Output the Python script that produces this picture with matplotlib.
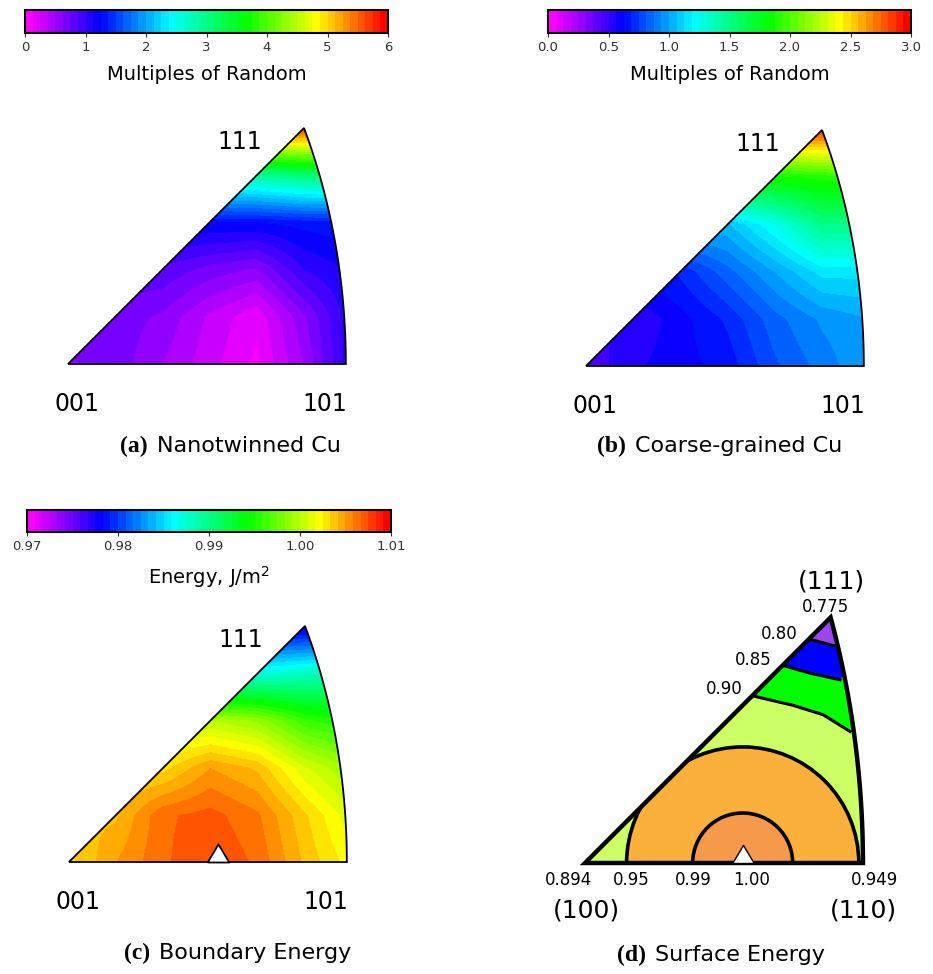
import numpy as np
import matplotlib
matplotlib.use("Agg")
import matplotlib.pyplot as plt
from matplotlib.colors import LinearSegmentedColormap, Normalize
from matplotlib.cm import ScalarMappable
from matplotlib.patches import Polygon, Circle

plt.rcParams['font.family'] = ['DejaVu Sans']

# sampled field values on a regular grid in the equal-area triangle (rows = y, cols = x)
grid_x = [0.0, 0.13, 0.26, 0.39, 0.52, 0.65, 0.78]
grid_y = [0.0, 0.13, 0.26, 0.39, 0.52, 0.65]

mrd_nanotwinned = [
    [0.6, 0.7, 0.5, 0.3, 0.1, 0.5, 1.1],
    [0.7, 0.7, 0.6, 0.35, 0.15, 0.6, 1.1],
    [0.85, 0.85, 0.85, 0.7, 0.6, 1.0, 1.15],
    [1.25, 1.25, 1.25, 1.25, 1.25, 1.3, 1.35],
    [2.8, 2.8, 2.8, 2.8, 2.9, 3.1, 3.1],
    [5.7, 5.7, 5.7, 5.7, 5.7, 5.7, 5.7],
]
mrd_coarse = [
    [0.45, 0.55, 0.6, 0.65, 0.8, 0.9, 1.0],
    [0.5, 0.5, 0.6, 0.7, 0.85, 0.95, 1.0],
    [0.65, 0.65, 0.7, 0.85, 1.0, 1.15, 1.15],
    [1.05, 1.05, 1.05, 1.05, 1.25, 1.5, 1.5],
    [1.8, 1.8, 1.8, 1.8, 1.85, 1.9, 1.95],
    [2.85, 2.85, 2.85, 2.85, 2.85, 2.85, 2.85],
]
boundary_energy = [
    [1.003, 1.005, 1.0065, 1.0075, 1.0065, 1.004, 1.002],
    [1.004, 1.004, 1.0065, 1.007, 1.006, 1.0035, 1.001],
    [1.003, 1.003, 1.003, 1.005, 1.004, 1.001, 0.999],
    [1.000, 1.000, 1.000, 1.000, 0.999, 0.996, 0.995],
    [0.987, 0.987, 0.987, 0.987, 0.987, 0.988, 0.989],
    [0.977, 0.977, 0.977, 0.977, 0.977, 0.977, 0.977],
]
boundary_min_x = 0.41

mrd_ticks_a = [0, 1, 2, 3, 4, 5, 6]
mrd_ticks_b = [0.0, 0.5, 1.0, 1.5, 2.0, 2.5, 3.0]
energy_ticks = [0.97, 0.98, 0.99, 1.00, 1.01]

# surface energy contours (stereographic triangle)
ring_center = 0.235
ring_radii = [0.173, 0.0745]          # 0.95 and 0.99 contours
ring_colors = ['#fbb03b', '#f6994b']
line_090 = ([0.246, 0.310, 0.355, 0.395], [0.250, 0.235, 0.221, 0.196])
line_085 = ([0.293, 0.335, 0.380], [0.295, 0.283, 0.273])
line_080 = ([0.333, 0.370], [0.334, 0.324])
band_colors = ['#00ff00', '#0000ff', '#9b45ee']
base_color = '#ccff66'
edge_labels = ['0.894', '0.95', '0.99', '1.00', '0.949']
edge_label_x = [-0.024, 0.069, 0.162, 0.248, 0.431]
side_labels = ['0.90', '0.85', '0.80', '0.775']
side_label_xy = [(0.207, 0.259), (0.250, 0.302), (0.289, 0.341), (0.359, 0.381)]

W, H = 933, 974
fig = plt.figure(figsize=(W / 100, H / 100), dpi=100)

cmap = LinearSegmentedColormap.from_list(
    'mrd', [(0, '#ff00ff'), (0.2, '#0000ff'), (0.4, '#00ffff'),
            (0.61, '#00ff00'), (0.81, '#ffff00'), (1, '#ff0000')], N=48)


def px_axes(left, top, width, height):
    return fig.add_axes([left / W, 1 - (top + height) / H, width / W, height / H])


def panel(ox, oy, scale, xlim, ylim):
    ax = px_axes(ox + xlim[0] * scale, oy - ylim[1] * scale,
                 (xlim[1] - xlim[0]) * scale, (ylim[1] - ylim[0]) * scale)
    return ax, xlim, ylim


def equal_area(a, b, c):
    n = np.sqrt(a * a + b * b + c * c)
    f = np.sqrt(2 / (1 + c / n))
    return a / n * f, b / n * f


def stereo(a, b, c):
    n = np.sqrt(a * a + b * b + c * c)
    return a / n / (1 + c / n), b / n / (1 + c / n)


def boundary(proj):
    s = np.linspace(0, 1, 80)
    one = np.ones_like(s)
    x1, y1 = proj(s, 0 * s, one)
    x2, y2 = proj(one, s, one)
    x3, y3 = proj(s[::-1], s[::-1], one)
    return np.column_stack([np.r_[x1, x2, x3], np.r_[y1, y2, y3]])


tri_marker = [(-1.2, 0), (1.2, 0), (0, 2), (-1.2, 0)]


def heat_panel(ox, oy, grid, vmin, vmax, marker_x=None):
    scale = 363.0
    ax, xlim, ylim = panel(ox, oy, scale, (-0.15, 0.85), (-0.2, 0.75))
    tri = boundary(equal_area)
    patch = Polygon(tri, closed=True, facecolor='none', edgecolor='black', lw=1.3, zorder=3)
    ax.add_patch(patch)
    dx = grid_x[1] - grid_x[0]
    dy = grid_y[1] - grid_y[0]
    im = ax.imshow(np.array(grid), origin='lower', cmap=cmap, vmin=vmin, vmax=vmax,
                   extent=(grid_x[0] - dx / 2, grid_x[-1] + dx / 2,
                           grid_y[0] - dy / 2, grid_y[-1] + dy / 2),
                   interpolation='bilinear', interpolation_stage='data', aspect='auto')
    im.set_clip_path(patch)
    if marker_x is not None:
        ax.plot(marker_x, 0, marker=tri_marker, ms=26, mfc='white', mec='black',
                mew=1.3, zorder=5, clip_on=False)
    ax.text(0.024, -0.11, '001', ha='center', va='center', fontsize=17)
    ax.text(0.708, -0.11, '101', ha='center', va='center', fontsize=17)
    ax.text(0.474, 0.612, '111', ha='center', va='center', fontsize=17)
    ax.set_xlim(xlim)
    ax.set_ylim(ylim)
    ax.axis('off')


def cbar(left, top, width, height, vmin, vmax, ticks, fmt, label):
    cax = px_axes(left, top, width, height)
    sm = ScalarMappable(norm=Normalize(vmin, vmax), cmap=cmap)
    cb = fig.colorbar(sm, cax=cax, orientation='horizontal', ticks=ticks, format=fmt)
    cb.outline.set_linewidth(1.5)
    cax.tick_params(labelsize=9.5, length=3, width=0.8, pad=3, colors='#333333')
    cb.set_label(label, fontsize=14, labelpad=8)


def caption(x_split, y, tag, text):
    fig.text(x_split / W, 1 - y / H, tag, ha='right', va='center',
             family='Liberation Serif', weight='bold', fontsize=17)
    fig.text((x_split + 9) / W, 1 - y / H, text, ha='left', va='center', fontsize=16)


# (a) and (b) texture, (c) boundary energy
cbar(25, 10, 363, 23, 0, 6, mrd_ticks_a, '%d', 'Multiples of Random')
cbar(548, 10, 363, 23, 0, 3, mrd_ticks_b, '%.1f', 'Multiples of Random')
cbar(27, 510, 364, 22, 0.97, 1.01, energy_ticks, '%.2f', 'Energy, J/m$^2$')

heat_panel(68, 364, mrd_nanotwinned, 0, 6)
heat_panel(586, 366, mrd_coarse, 0, 3)
heat_panel(69, 862, boundary_energy, 0.97, 1.01, marker_x=boundary_min_x)

caption(148, 446, '(a)', 'Nanotwinned Cu')
caption(626, 446, '(b)', 'Coarse-grained Cu')
caption(150, 953, '(c)', 'Boundary Energy')
caption(646, 955, '(d)', 'Surface Energy')

# (d) surface energy
ax, xlim, ylim = panel(585, 863, 671.0, (-0.12, 0.52), (-0.15, 0.47))
tri = boundary(stereo)
clip = Polygon(tri, closed=True, facecolor=base_color, edgecolor='none', zorder=1)
ax.add_patch(clip)
for (lx, ly), color in zip([line_090, line_085, line_080], band_colors):
    pts = list(zip(lx, ly)) + [(0.6, 0.6), (0.0, 0.6)]
    band = Polygon(pts, closed=True, facecolor=color, edgecolor='none', zorder=2)
    ax.add_patch(band)
    band.set_clip_path(clip)
    ln, = ax.plot(lx, ly, color='black', lw=2.2, zorder=3)
    ln.set_clip_path(clip)
for r, color in zip(ring_radii, ring_colors):
    c = Circle((ring_center, 0), r, facecolor=color, edgecolor='black', lw=2.6, zorder=3)
    ax.add_patch(c)
    c.set_clip_path(clip)
ax.add_patch(Polygon(tri, closed=True, fill=False, edgecolor='black', lw=3.2,
                     joinstyle='miter', zorder=4))
ax.plot(ring_center, 0, marker=tri_marker, ms=26, mfc='white', mec='black',
        mew=1.0, zorder=5, clip_on=False)
for s, x in zip(edge_labels, edge_label_x):
    ax.text(x, -0.025, s, ha='center', va='center', fontsize=12)
for s, (x, y) in zip(side_labels, side_label_xy):
    ax.text(x, y, s, ha='center', va='center', fontsize=12)
ax.text(0.0015, -0.0715, '(100)', ha='center', va='center', fontsize=18)
ax.text(0.415, -0.0715, '(110)', ha='center', va='center', fontsize=18)
ax.text(0.367, 0.420, '(111)', ha='center', va='center', fontsize=18)
ax.set_xlim(xlim)
ax.set_ylim(ylim)
ax.axis('off')

fig.savefig('out.png', dpi=100)
